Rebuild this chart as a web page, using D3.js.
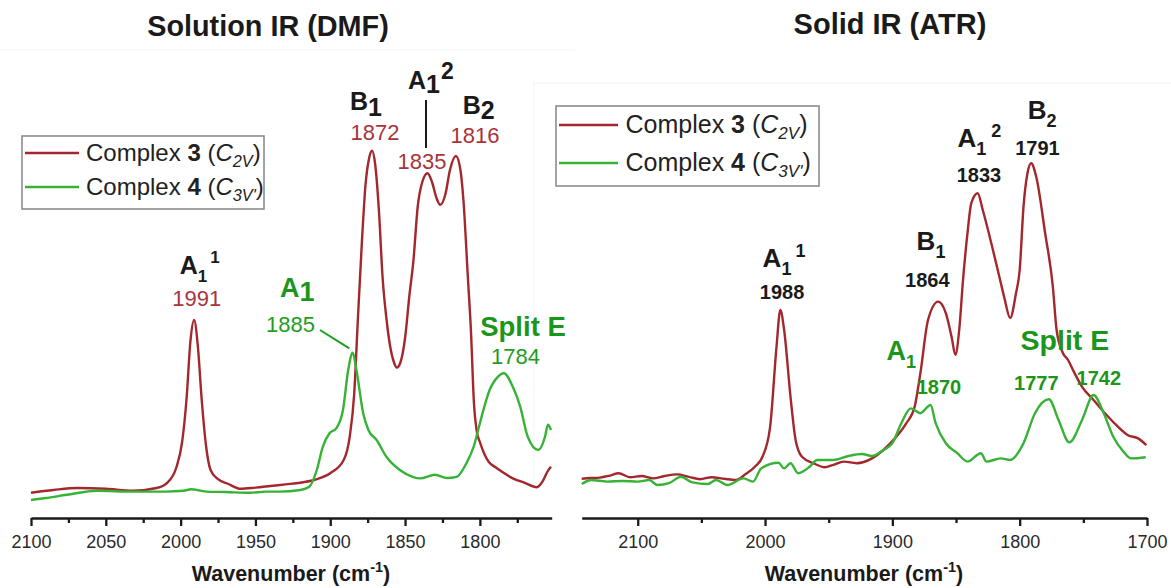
<!DOCTYPE html>
<html>
<head>
<meta charset="utf-8">
<script src="https://cdn.jsdelivr.net/npm/d3@7"></script>
<style>
  html, body { margin: 0; padding: 0; background: #fff; }
  svg { display: block; font-family: "Liberation Sans", Arial, Helvetica, sans-serif; }
</style>
</head>
<body>
<svg id="chart" width="1171" height="588"></svg>
<script>
// ---------------- data: [wavenumber (cm-1), absorbance (a.u.)] ----------------
const solutionComplex3 = [
  [2100,0.063],[2085,0.070],[2069,0.075],[2050,0.073],[2032,0.068],[2016,0.075],[2009,0.088],
  [2003,0.125],[1999,0.19],[1996,0.30],[1993.5,0.44],[1991,0.495],[1988.5,0.43],[1986,0.30],
  [1983,0.18],[1980,0.12],[1975,0.097],[1968,0.085],[1960,0.073],[1950,0.076],[1940,0.08],
  [1930,0.084],[1920,0.088],[1911,0.095],[1900,0.112],[1891,0.145],[1887,0.203],[1884,0.31],
  [1881.5,0.50],[1879,0.68],[1876.5,0.83],[1874,0.90],[1872,0.918],[1870,0.885],[1867.5,0.77],
  [1865,0.60],[1862.5,0.50],[1860,0.43],[1857.5,0.39],[1855.5,0.376],[1853,0.39],[1850,0.45],
  [1847,0.56],[1844.5,0.64],[1841.5,0.78],[1838.5,0.84],[1835,0.862],[1832,0.84],[1829,0.80],
  [1826.5,0.783],[1823,0.81],[1820,0.87],[1816,0.905],[1813,0.87],[1811,0.795],[1808,0.60],
  [1806,0.47],[1804,0.29],[1802,0.215],[1800,0.19],[1797,0.16],[1794,0.14],[1790,0.128],
  [1785,0.115],[1778,0.099],[1770,0.088],[1762,0.077],[1758,0.092],[1755,0.115],[1752.5,0.128]
];
const solutionComplex4 = [
  [2100,0.045],[2090,0.05],[2076,0.058],[2056,0.068],[2032,0.066],[2010,0.066],[1998,0.068],
  [1993,0.072],[1983,0.066],[1970,0.065],[1954,0.063],[1943,0.066],[1934,0.066],[1920,0.07],
  [1914,0.078],[1909,0.12],[1905,0.178],[1900.5,0.212],[1896,0.224],[1891.5,0.27],[1888,0.37],
  [1885,0.413],[1882.5,0.37],[1878,0.262],[1874.5,0.22],[1869,0.195],[1862.5,0.153],
  [1853.5,0.12],[1845,0.103],[1840,0.099],[1830,0.108],[1822,0.10],[1815.5,0.103],[1809,0.137],
  [1804,0.18],[1800,0.237],[1793.5,0.32],[1788,0.353],[1784,0.362],[1778,0.328],[1773,0.278],
  [1768,0.203],[1761,0.17],[1756.5,0.203],[1754.5,0.233],[1752.5,0.22]
];
const solidComplex3 = [
  [2144,0.098],[2137,0.10],[2130,0.101],[2122,0.106],[2115,0.112],[2106,0.102],[2097,0.105],
  [2088,0.099],[2079,0.105],[2069,0.109],[2060,0.103],[2051,0.097],[2042,0.102],[2032,0.098],
  [2023,0.095],[2016,0.108],[2008,0.128],[2002,0.153],[1996,0.228],[1991,0.428],[1988,0.52],
  [1985,0.47],[1980,0.303],[1976,0.195],[1971,0.153],[1962,0.137],[1953,0.127],[1947,0.132],
  [1938,0.141],[1928,0.137],[1916,0.149],[1907,0.17],[1898,0.199],[1889,0.237],[1882.5,0.278],
  [1878,0.362],[1872,0.495],[1864,0.541],[1858,0.512],[1853.5,0.453],[1850.5,0.408],
  [1847.5,0.47],[1844.5,0.595],[1841,0.712],[1838,0.787],[1833,0.812],[1829,0.77],[1821,0.67],
  [1815,0.59],[1812,0.55],[1807.5,0.50],[1803,0.56],[1800,0.62],[1797,0.778],[1794,0.86],
  [1791,0.887],[1787,0.853],[1780,0.712],[1774,0.58],[1771,0.47],[1766,0.412],[1762,0.395],
  [1757.5,0.366],[1751,0.328],[1742,0.295],[1733,0.262],[1724,0.232],[1715,0.207],[1707,0.199],
  [1700.5,0.182]
];
const solidComplex4 = [
  [2144,0.085],[2136.5,0.095],[2124,0.091],[2112,0.0925],[2100,0.091],[2091,0.095],
  [2084.5,0.0825],[2075.5,0.087],[2066,0.103],[2057,0.089],[2045,0.085],[2038.5,0.095],
  [2029.5,0.0825],[2017,0.099],[2009.5,0.091],[2003,0.124],[1989.5,0.138],[1985,0.124],
  [1980,0.137],[1974,0.112],[1965,0.128],[1959,0.145],[1947,0.145],[1934.5,0.155],[1924,0.16],
  [1916,0.155],[1907,0.17],[1900,0.187],[1893,0.237],[1885.5,0.274],[1878,0.262],[1870,0.2825],
  [1866,0.237],[1858,0.187],[1849,0.162],[1841,0.141],[1830.5,0.162],[1826,0.141],[1815,0.149],
  [1807.5,0.145],[1797,0.187],[1788,0.262],[1777,0.297],[1769.5,0.245],[1761,0.189],[1751,0.245],
  [1742,0.3075],[1734,0.262],[1726.5,0.203],[1718.5,0.166],[1712.5,0.149],[1701,0.152]
];

// tick values
const solutionMajorTicks = [2100, 2050, 2000, 1950, 1900, 1850, 1800];
const solutionMinorTicks = [2075, 2025, 1975, 1925, 1875, 1825, 1775];
const solidMajorTicks = [2100, 2000, 1900, 1800, 1700];
const solidMinorTicks = [2050, 1950, 1850, 1750];

// peak assignments: wavenumber + mode symbol [letter, subscript, superscript]
const solutionPeaks3 = [1991, 1872, 1835, 1816];
const solutionModes3 = [["A","1","1"], ["B","1",""], ["A","1","2"], ["B","2",""]];
const solutionPeaks4 = [1885, 1784];
const solidPeaks3 = [1988, 1864, 1833, 1791];
const solidModes3 = [["A","1","1"], ["B","1",""], ["A","1","2"], ["B","2",""]];
const solidPeaks4 = [1870, 1777, 1742];

const seriesNames = ["Complex 3", "Complex 4"];

// ---------------- styling ----------------
const RED = "#a3272c", RED_TEXT = "#a8353a";
const GREEN = "#36b336", GREEN_TEXT = "#1f9d1f", GREEN_BOLD = "#1b961b";
const INK = "#1a1a1a";

const svg = d3.select("#chart");

// faint panel frames
svg.append("line").attr("x1", 0).attr("x2", 575).attr("y1", 50).attr("y2", 50)
  .attr("stroke", "#f3f3f3").attr("stroke-width", 1.2);
svg.append("line").attr("x1", 534).attr("x2", 1171).attr("y1", 83).attr("y2", 83)
  .attr("stroke", "#f3f3f3").attr("stroke-width", 1.2);
svg.append("line").attr("x1", 534).attr("x2", 534).attr("y1", 83).attr("y2", 480)
  .attr("stroke", "#f6f6f6").attr("stroke-width", 1.2);

const y = d3.scaleLinear().domain([0, 1]).range([518, 118]);
const xSol = d3.scaleLinear().domain([2100, 1752]).range([31, 551.7]);
const xSolid = d3.scaleLinear().domain([2144, 1700]).range([581.7, 1147]);

function drawAxis(x, major, minor, titleX) {
  const gMinor = svg.append("g").attr("transform", "translate(0,518)")
    .call(d3.axisBottom(x).tickValues(minor).tickSize(5).tickSizeOuter(0).tickFormat(""));
  gMinor.select(".domain").remove();
  gMinor.selectAll(".tick line").attr("stroke", INK).attr("stroke-width", 2.3);
  const gMajor = svg.append("g").attr("transform", "translate(0,518)")
    .call(d3.axisBottom(x).tickValues(major).tickSize(8).tickSizeOuter(0).tickFormat(d3.format("d")));
  gMajor.select(".domain").attr("stroke", INK).attr("stroke-width", 2.7);
  gMajor.selectAll(".tick line").attr("stroke", INK).attr("stroke-width", 2.3);
  gMajor.selectAll(".tick text").attr("dy", null).attr("y", 29.5)
    .attr("font-size", 18).attr("fill", "#2a2a2a")
    .attr("font-family", '"Liberation Sans", Arial, sans-serif');
  const t = svg.append("text").attr("x", titleX).attr("y", 581).attr("text-anchor", "middle")
    .attr("font-size", 21.5).attr("font-weight", "bold").attr("fill", INK);
  t.append("tspan").text("Wavenumber (cm");
  t.append("tspan").text("-1").attr("font-size", 14.5).attr("dy", -9);
  t.append("tspan").text(")").attr("dy", 9);
}

function drawLine(x, data, color) {
  const line = d3.line().x(d => x(d[0])).y(d => y(d[1])).curve(d3.curveMonotoneX);
  svg.append("path").datum(data).attr("d", line).attr("fill", "none")
    .attr("stroke", color).attr("stroke-width", 2.4).attr("stroke-linejoin", "round");
}

// rich text: parts [{t, dy (absolute baseline offset), size, dx, italic, weight}]
function richText(x, yb, parts, opt) {
  const t = svg.append("text").attr("x", x).attr("y", yb)
    .attr("text-anchor", opt.anchor || "start").attr("fill", opt.fill)
    .attr("font-size", opt.size).attr("font-weight", opt.weight || "normal");
  let shift = 0;
  parts.forEach(p => {
    const s = t.append("tspan").text(p.t);
    const target = p.dy || 0;
    if (target !== shift) { s.attr("dy", target - shift); shift = target; }
    if (p.size) s.attr("font-size", p.size);
    if (p.dx) s.attr("dx", p.dx);
    if (p.italic) s.attr("font-style", "italic");
    if (p.weight) s.attr("font-weight", p.weight);
  });
  return t;
}

function modeLabel(x, yb, mode, st) {
  const parts = [{ t: mode[0] }, { t: mode[1], dy: st.subDy, size: st.subSize }];
  if (mode[2]) parts.push({ t: mode[2], dy: st.supDy, size: st.supSize, dx: st.gap });
  richText(x, yb, parts, { fill: st.fill || INK, size: st.size, weight: "bold" });
}

function legend(bx, by, bw, bh, lineX0, lineX1, textX, rows, fontSize) {
  svg.append("rect").attr("x", bx).attr("y", by).attr("width", bw).attr("height", bh)
    .attr("fill", "#fff").attr("stroke", "#8c8c8c").attr("stroke-width", 1.6);
  const subs = ["2V", "3V'"];
  const boldNum = ["3", "4"];
  const colors = [RED, GREEN];
  rows.forEach((ry, i) => {
    svg.append("line").attr("x1", lineX0).attr("x2", lineX1).attr("y1", ry).attr("y2", ry)
      .attr("stroke", colors[i]).attr("stroke-width", 2.6);
    richText(textX, ry + 8, [
      { t: seriesNames[i].replace(/ \d$/, "") + " " },
      { t: boldNum[i], weight: "bold" },
      { t: " (" },
      { t: "C", italic: true },
      { t: subs[i], italic: true, dy: 6, size: fontSize * 0.68 },
      { t: ")", dy: 0 }
    ], { fill: "#222", size: fontSize });
  });
}

// ---------------- titles ----------------
svg.append("text").attr("x", 268).attr("y", 36).attr("text-anchor", "middle")
  .attr("font-size", 28.8).attr("font-weight", "bold").attr("fill", INK).text("Solution IR (DMF)");
svg.append("text").attr("x", 890).attr("y", 34).attr("text-anchor", "middle")
  .attr("font-size", 29).attr("font-weight", "bold").attr("fill", INK).text("Solid IR (ATR)");

// ---------------- solution panel ----------------
drawAxis(xSol, solutionMajorTicks, solutionMinorTicks, 291);
drawLine(xSol, solutionComplex3, RED);
drawLine(xSol, solutionComplex4, GREEN);

// mode labels above the complex 3 bands
const solModeLayout = [
  { dx: -14.4, yb: 274, st: { size: 25, subSize: 17, subDy: 7.5, supSize: 17, supDy: -11, gap: 4 } },
  { dx: -22.2, yb: 109.5, st: { size: 25, subSize: 25, subDy: 6 } },
  { dx: -19.5, yb: 88.5, st: { size: 25, subSize: 25, subDy: 4.5, supSize: 23, supDy: -10, gap: 1 } },
  { dx: 6.7, yb: 113.5, st: { size: 25, subSize: 25, subDy: 5 } }
];
const solNumLayout = [
  { dx: 2.6, yb: 306 }, { dx: 2.8, yb: 140 }, { dx: -5.5, yb: 168.5 }, { dx: 19, yb: 143 }
];
solutionPeaks3.forEach((wn, i) => {
  const L = solModeLayout[i];
  modeLabel(xSol(wn) + L.dx, L.yb, solutionModes3[i], L.st);
  const N = solNumLayout[i];
  svg.append("text").attr("x", xSol(wn) + N.dx).attr("y", N.yb).attr("text-anchor", "middle")
    .attr("font-size", 22).attr("fill", RED_TEXT).text(wn);
});
// marker line tying the 1835 band to its label
svg.append("line").attr("x1", xSol(1835) - 1.5).attr("x2", xSol(1835) - 1.5)
  .attr("y1", 100).attr("y2", 148).attr("stroke", INK).attr("stroke-width", 2);

// complex 4 bands
richText(xSol(solutionPeaks4[0]) - 72.7, 297, [{ t: "A" }, { t: "1", dy: 4 }],
  { fill: GREEN_BOLD, size: 27, weight: "bold" });
svg.append("text").attr("x", xSol(solutionPeaks4[0]) - 62.2).attr("y", 332)
  .attr("text-anchor", "middle").attr("font-size", 22).attr("fill", GREEN_TEXT).text(solutionPeaks4[0]);
svg.append("line").attr("x1", xSol(solutionPeaks4[0]) - 32.7).attr("y1", 330)
  .attr("x2", xSol(solutionPeaks4[0]) - 3.4).attr("y2", 348.3)
  .attr("stroke", GREEN_TEXT).attr("stroke-width", 2);
svg.append("text").attr("x", xSol(solutionPeaks4[1]) + 19.2).attr("y", 336)
  .attr("text-anchor", "middle").attr("font-size", 27.5).attr("font-weight", "bold")
  .attr("fill", GREEN_BOLD).text("Split E");
svg.append("text").attr("x", xSol(solutionPeaks4[1]) + 11.7).attr("y", 363.5)
  .attr("text-anchor", "middle").attr("font-size", 22).attr("fill", GREEN_TEXT).text(solutionPeaks4[1]);

legend(22, 136, 242, 73, 25, 79, 86, [153, 187], 24);

// ---------------- solid panel ----------------
drawAxis(xSolid, solidMajorTicks, solidMinorTicks, 864);
drawLine(xSolid, solidComplex3, RED);
drawLine(xSolid, solidComplex4, GREEN);

const solidSt = { size: 26, subSize: 18, subDy: 8, supSize: 18, supDy: -10, gap: 5 };
const solidModeLayout = [
  { dx: -17.7, yb: 267 }, { dx: -21.6, yb: 250 }, { dx: -20.2, yb: 147 }, { dx: -3.5, yb: 118.5 }
];
const solidNumLayout = [
  { dx: 1.7, yb: 299 }, { dx: -10.9, yb: 287 }, { dx: 1.3, yb: 182 }, { dx: 6.3, yb: 155 }
];
solidPeaks3.forEach((wn, i) => {
  const L = solidModeLayout[i];
  modeLabel(xSolid(wn) + L.dx, L.yb, solidModes3[i], solidSt);
  const N = solidNumLayout[i];
  svg.append("text").attr("x", xSolid(wn) + N.dx).attr("y", N.yb).attr("text-anchor", "middle")
    .attr("font-size", 20).attr("font-weight", "bold").attr("fill", INK).text(wn);
});

richText(xSolid(solidPeaks4[0]) - 44, 360, [{ t: "A" }, { t: "1", dy: 8, size: 18 }],
  { fill: GREEN_BOLD, size: 27, weight: "bold" });
svg.append("text").attr("x", xSolid(solidPeaks4[1]) + 16).attr("y", 350)
  .attr("text-anchor", "middle").attr("font-size", 28.5).attr("font-weight", "bold")
  .attr("fill", GREEN_BOLD).text("Split E");
const solidNum4Layout = [{ dx: 8.4, yb: 393.5 }, { dx: -12.6, yb: 390 }, { dx: 5.3, yb: 385 }];
solidPeaks4.forEach((wn, i) => {
  const N = solidNum4Layout[i];
  svg.append("text").attr("x", xSolid(wn) + N.dx).attr("y", N.yb).attr("text-anchor", "middle")
    .attr("font-size", 20).attr("font-weight", "bold").attr("fill", GREEN_BOLD).text(wn);
});

legend(556, 106, 263, 80, 559, 618, 625.5, [125, 163], 25);
</script>
</body>
</html>
